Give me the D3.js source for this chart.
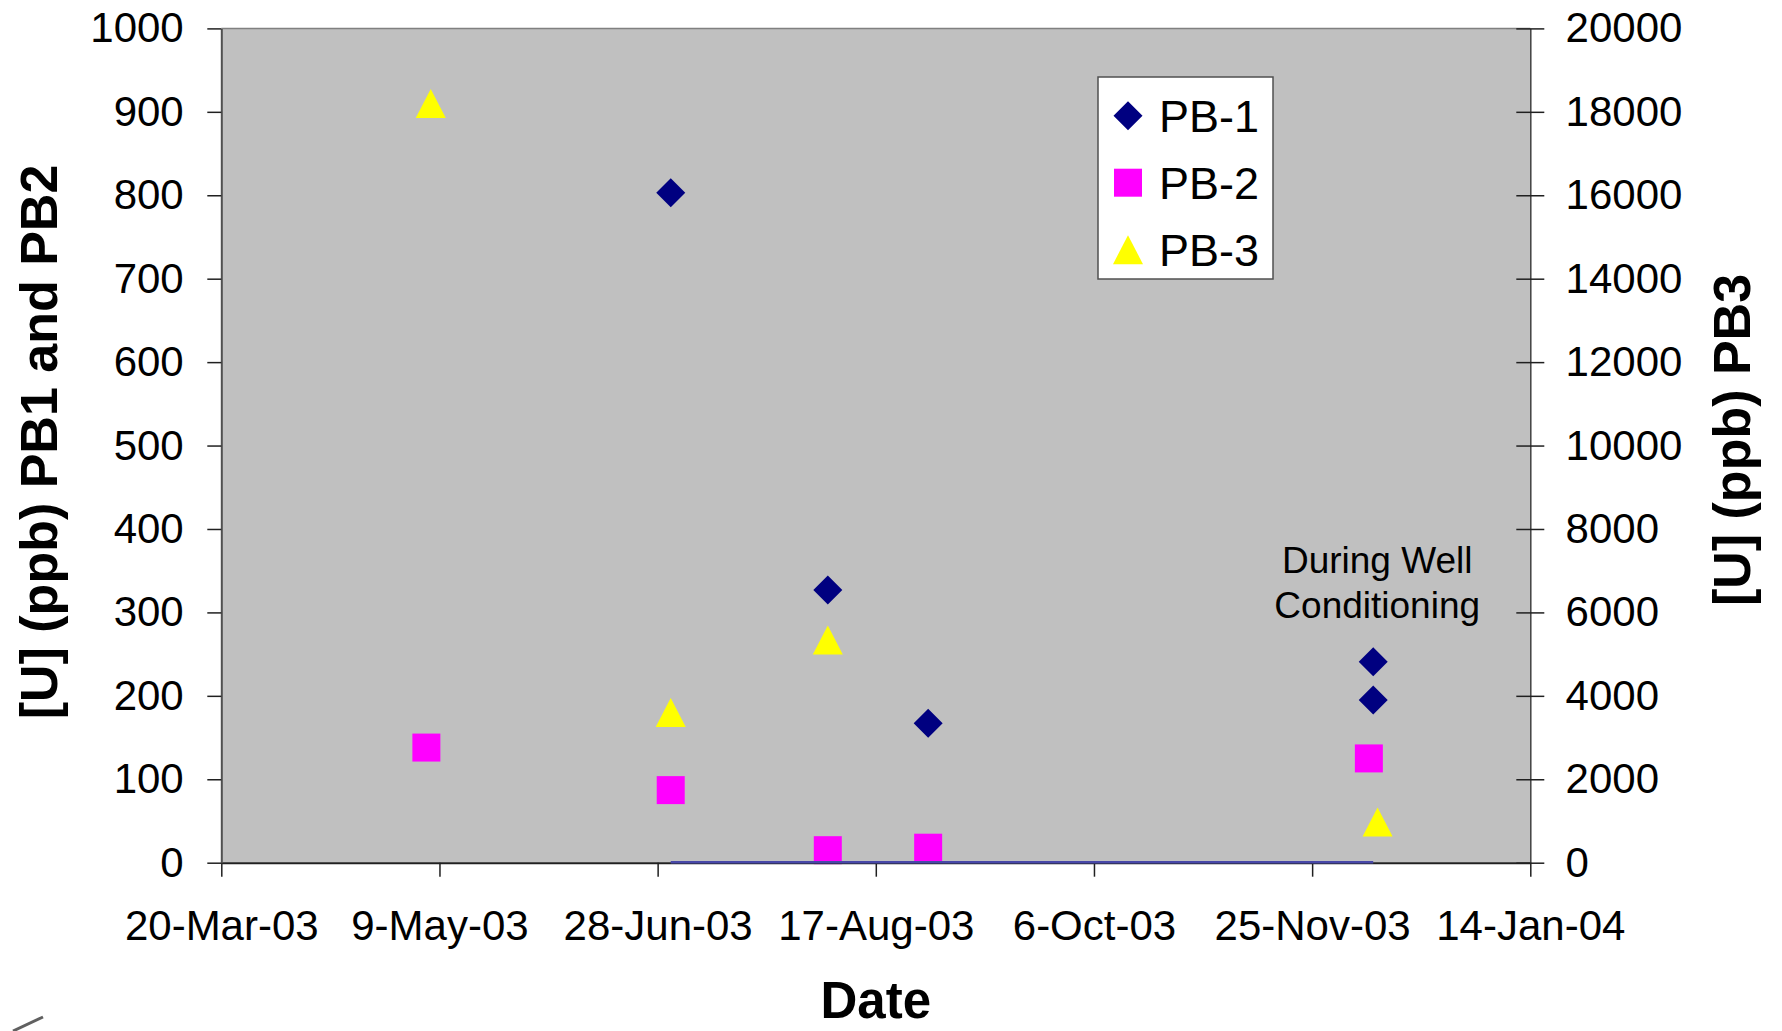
<!DOCTYPE html>
<html>
<head>
<meta charset="utf-8">
<script src="https://cdn.jsdelivr.net/npm/d3@7"></script>
<style>
  html, body { margin: 0; padding: 0; background: #ffffff; }
  svg { display: block; }
  text { font-family: "Liberation Sans", Arial, sans-serif; fill: #000; }
</style>
</head>
<body>
<svg id="chart" width="1782" height="1031"></svg>
<script>
// ---------------- data ----------------
const seriesNames = ["PB-1", "PB-2", "PB-3"];

const pb1Dates  = ["2003-07-01", "2003-08-06", "2003-08-29", "2003-12-09", "2003-12-09"];
const pb1Values = [803, 327, 167, 241, 195];

const pb2Dates  = ["2003-05-06", "2003-07-01", "2003-08-06", "2003-08-29", "2003-12-08"];
const pb2Values = [138, 87, 15, 18, 125];

const pb3Dates  = ["2003-05-07", "2003-07-01", "2003-08-06", "2003-12-10"];
const pb3Values = [18200, 3600, 5340, 975];   // right axis

// thin blue series lying on the zero line
const zeroDates  = ["2003-07-01", "2003-12-09"];
const zeroValues = [0, 0];

const xTickLabels = ["20-Mar-03", "9-May-03", "28-Jun-03", "17-Aug-03", "6-Oct-03", "25-Nov-03", "14-Jan-04"];
const yLeftTicks  = [0, 100, 200, 300, 400, 500, 600, 700, 800, 900, 1000];
const yRightTicks = [0, 2000, 4000, 6000, 8000, 10000, 12000, 14000, 16000, 18000, 20000];

const annotationLines = ["During Well", "Conditioning"];
const annotationDate = "2003-12-09";

// ---------------- layout ----------------
const svg = d3.select("#chart");
const pLeft = 221.3, pRight = 1530.3, pTop = 28.4, pBottom = 862.7;

const parse = d3.utcParse("%Y-%m-%d");
const fmt = d3.utcFormat("%-d-%b-%y");
const xTickDates = xTickLabels.map(s => d3.utcParse("%d-%b-%y")(s));

const x = d3.scaleUtc().domain([xTickDates[0], xTickDates[xTickDates.length - 1]]).range([pLeft, pRight]);
const yL = d3.scaleLinear().domain([0, 1000]).range([pBottom, pTop]);
const yR = d3.scaleLinear().domain([0, 20000]).range([pBottom, pTop]);

// plot area
svg.append("rect")
  .attr("x", pLeft).attr("y", pTop)
  .attr("width", pRight - pLeft).attr("height", pBottom - pTop)
  .attr("fill", "#C0C0C0");
svg.append("line")
  .attr("x1", pLeft).attr("x2", pRight).attr("y1", pTop).attr("y2", pTop)
  .attr("stroke", "#808080").attr("stroke-width", 1.5);

function triPath(cx, cy, w, h) {
  return `M${cx},${cy - h / 2}L${cx + w / 2},${cy + h / 2}L${cx - w / 2},${cy + h / 2}Z`;
}
function diaPath(cx, cy, w, h) {
  return `M${cx},${cy - h / 2}L${cx + w / 2},${cy}L${cx},${cy + h / 2}L${cx - w / 2},${cy}Z`;
}
function sqPath(cx, cy, s) {
  return `M${cx - s / 2},${cy - s / 2}h${s}v${s}h${-s}Z`;
}

const gMarks = svg.append("g");

// PB-1 diamonds
gMarks.selectAll("path.pb1")
  .data(pb1Dates.map((d, i) => ({ date: parse(d), v: pb1Values[i] })))
  .join("path").attr("class", "pb1")
  .attr("d", d => diaPath(x(d.date), yL(d.v), 29, 29))
  .attr("fill", "#000080");

// PB-2 squares
gMarks.selectAll("path.pb2")
  .data(pb2Dates.map((d, i) => ({ date: parse(d), v: pb2Values[i] })))
  .join("path").attr("class", "pb2")
  .attr("d", d => sqPath(x(d.date), yL(d.v), 28))
  .attr("fill", "#FF00FF");

// PB-3 triangles (right axis)
gMarks.selectAll("path.pb3")
  .data(pb3Dates.map((d, i) => ({ date: parse(d), v: pb3Values[i] })))
  .join("path").attr("class", "pb3")
  .attr("d", d => triPath(x(d.date), yR(d.v), 30, 29))
  .attr("fill", "#FFFF00");

// ---------------- axes ----------------
const tickFont = "42px";

const gx = svg.append("g").attr("transform", `translate(0,${pBottom})`)
  .call(d3.axisBottom(x).tickValues(xTickDates).tickFormat(fmt).tickSizeInner(14).tickSizeOuter(0).tickPadding(33));
gx.select(".domain").attr("stroke", "#202020").attr("stroke-width", 2);
gx.selectAll(".tick line").attr("stroke", "#202020").attr("stroke-width", 1.5);
gx.selectAll(".tick text").style("font-size", tickFont).style("font-family", "'Liberation Sans', Arial, sans-serif").attr("fill", "#000");

// zero line series (drawn over the axis line)
svg.append("path")
  .datum(zeroDates.map((d, i) => ({ date: parse(d), v: zeroValues[i] })))
  .attr("d", d3.line().x(d => x(d.date)).y(d => yL(d.v) - 0.5))
  .attr("fill", "none").attr("stroke", "#4848A8").attr("stroke-width", 2.5);

const gyl = svg.append("g").attr("transform", `translate(${pLeft},0)`)
  .call(d3.axisLeft(yL).tickValues(yLeftTicks).tickFormat(d3.format("d")).tickSizeInner(14).tickSizeOuter(0).tickPadding(23.6));
gyl.select(".domain").attr("stroke", "#505050").attr("stroke-width", 2);
gyl.selectAll(".tick line").attr("stroke", "#202020").attr("stroke-width", 1.5);
gyl.selectAll(".tick text").style("font-size", tickFont).style("font-family", "'Liberation Sans', Arial, sans-serif").attr("fill", "#000");

const gyr = svg.append("g").attr("transform", `translate(${pRight},0)`)
  .call(d3.axisRight(yR).tickValues(yRightTicks).tickFormat(d3.format("d")).tickSizeInner(14).tickSizeOuter(0).tickPadding(21.3));
gyr.select(".domain").attr("stroke", "#404040").attr("stroke-width", 1.5);
gyr.selectAll(".tick line").attr("x1", -14).attr("x2", 14).attr("stroke", "#202020").attr("stroke-width", 1.5);
gyr.selectAll(".tick text").style("font-size", tickFont).style("font-family", "'Liberation Sans', Arial, sans-serif").attr("fill", "#000");

// axis titles
svg.append("text")
  .attr("transform", "translate(57,442) rotate(-90)")
  .attr("text-anchor", "middle")
  .style("font-size", "52px").style("font-weight", "bold")
  .text("[U] (ppb) PB1 and PB2");

svg.append("text")
  .attr("transform", "translate(1750,440) rotate(-90)")
  .attr("text-anchor", "middle")
  .style("font-size", "52px").style("font-weight", "bold")
  .text("[U] (ppb) PB3");

svg.append("text")
  .attr("x", (pLeft + pRight) / 2).attr("y", 1018)
  .attr("text-anchor", "middle")
  .style("font-size", "51px").style("font-weight", "bold")
  .text("Date");

// annotation
const ann = svg.append("text")
  .attr("text-anchor", "middle")
  .style("font-size", "37px");
annotationLines.forEach((t, i) => {
  ann.append("tspan")
    .attr("x", x(parse(annotationDate)) + 4)
    .attr("y", 573 + i * 45)
    .text(t);
});

// legend
const legend = svg.append("g").attr("transform", "translate(1098,77)");
legend.append("rect").attr("width", 175).attr("height", 202)
  .attr("fill", "#ffffff").attr("stroke", "#505050").attr("stroke-width", 1.5);
const legendShapes = [
  (cx, cy) => diaPath(cx, cy, 29, 29),
  (cx, cy) => sqPath(cx, cy, 28),
  (cx, cy) => triPath(cx, cy, 30, 29)
];
const legendColors = ["#000080", "#FF00FF", "#FFFF00"];
seriesNames.forEach((name, i) => {
  const cy = 38.7 + i * 67;
  legend.append("path").attr("d", legendShapes[i](30, cy)).attr("fill", legendColors[i]);
  legend.append("text").attr("x", 61).attr("y", cy + 16.5)
    .style("font-size", "45px").text(name);
});

// small stroke fragment at bottom-left corner
svg.append("line")
  .attr("x1", 13).attr("y1", 1031).attr("x2", 43).attr("y2", 1017)
  .attr("stroke", "#606060").attr("stroke-width", 3);
</script>
</body>
</html>
